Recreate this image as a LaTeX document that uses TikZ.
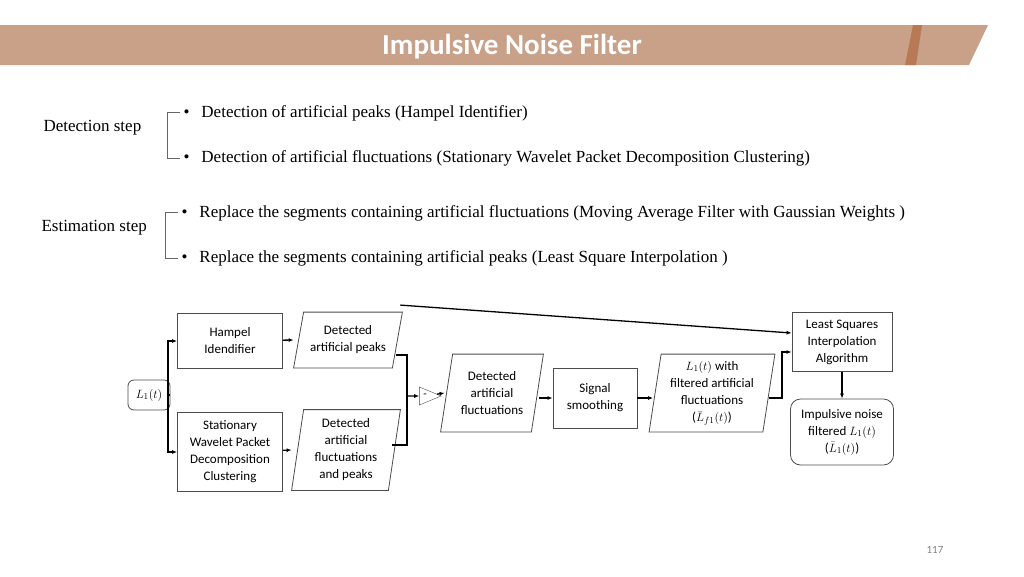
\documentclass[tikz,border=0pt]{standalone}
\usepackage{fontspec}
\setmainfont{Liberation Serif}
\newfontfamily\carlito{Carlito}
\usetikzlibrary{arrows.meta,calc,positioning,shapes.geometric}
\definecolor{banner}{HTML}{C9A088}
\definecolor{bannerdark}{HTML}{B87A55}
\tikzset{
    box/.style={draw=black!70, thick, align=center, font=\carlito\fontsize{13}{17}\selectfont, inner sep=2pt},
    para/.style={box, draw=none},
    rbox/.style={box, rounded corners=6pt},
    flow/.style={-{Latex[length=5pt,width=4pt]}, line width=1.3pt},
    stepline/.style={font=\fontsize{17}{20}\selectfont, anchor=west}
}
\begin{document}
\begin{tikzpicture}[x=1pt, y=-1pt]
    \useasboundingbox (0,0) rectangle (1024,576);
    % banner
    \fill[banner] (0,25) -- (988,25) -- (969,65) -- (0,65) -- cycle;
    \fill[bannerdark] (913,25) -- (922,25) -- (916,65) -- (905,65) -- cycle;
    \node[text=white, font=\carlito\bfseries\fontsize{29}{32}\selectfont] (title) at (512,47) {Impulsive Noise Filter};
    % steps
    \node[stepline] (det) at (40,128) {Detection step};
    \draw[black!60] (180,112) -- (167,112) -- (167,158) -- (180,158);
    \node[stepline] (d1) at (180,113) {\textbullet\hspace{12pt}Detection of artificial peaks (Hampel Identifier)};
    \node[stepline] (d2) at (180,158) {\textbullet\hspace{12pt}Detection of artificial fluctuations (Stationary Wavelet Packet Decomposition Clustering)};
    \node[stepline] (est) at (38,228) {Estimation step};
    \draw[black!60] (178,212) -- (165,212) -- (165,258) -- (178,258);
    \node[stepline] (e1) at (178,213) {\textbullet\hspace{12pt}Replace the segments containing artificial fluctuations (Moving Average Filter with Gaussian Weights )};
    \node[stepline] (e2) at (178,258) {\textbullet\hspace{12pt}Replace the segments containing artificial peaks (Least Square Interpolation )};
    % diagram
    \node[rbox, minimum width=42pt, minimum height=30pt] (L) at (149,395) {$L_1(t)$};
    \node[box, minimum width=105pt, minimum height=55pt] (ham) at (230,341) {Hampel\\Idendifier};
    \node[box, minimum width=105pt, minimum height=79pt] (swp) at (230,452) {Stationary\\Wavelet Packet\\Decomposition\\Clustering};
    \node[para, minimum width=108pt, minimum height=55pt] (pk) at (348,340) {Detected\\artificial peaks};
    \node[para, minimum width=108pt, minimum height=80pt] (fp) at (346,450) {Detected\\artificial\\fluctuations\\and peaks};
    \node[isosceles triangle, draw=black!70, minimum height=20pt, minimum width=18pt, inner sep=0pt, font=\carlito\fontsize{11}{12}\selectfont] (sub) at (425,396) {-};
    \node[para, minimum width=102pt, minimum height=77pt] (fl) at (492,393) {Detected\\artificial\\fluctuations};
    \node[box, minimum width=84pt, minimum height=60pt] (sm) at (595,398) {Signal\\smoothing};
    \node[para, minimum width=125pt, minimum height=77pt] (lf) at (712,393) {$L_1(t)$ with\\filtered artificial\\fluctuations\\($\bar{L}_{f1}(t)$)};
    \node[box, minimum width=100pt, minimum height=59pt] (ls) at (842,342) {Least Squares\\Interpolation\\Algorithm};
    \node[rbox, rounded corners=10pt, minimum width=103pt, minimum height=66pt] (out) at (842,432) {Impulsive noise\\filtered $L_1(t)$\\($\bar{L}_1(t)$)};
    \foreach \n/\s in {pk/10, fp/12, fl/12, lf/12}{
        \draw[black!70, thick] (\n.south west) -- ($(\n.south east)-(\s,0)$) -- (\n.north east) -- ($(\n.north west)+(\s,0)$) -- cycle;}
    % connectors
    \coordinate (split) at (168,395);
    \draw[line width=1.3pt] (L) -- (split);
    \draw[flow] (split) |- (ham);
    \draw[flow] (split) |- (swp);
    \draw[flow] (ham) -- (pk.west);
    \draw[flow] (swp) -- (fp.west);
    \coordinate (join) at (407,396);
    \draw[line width=1.3pt] ($(pk.east)+(-6,15)$) -| (join) |- ($(fp.east)+(-8,-5)$);
    \draw[flow] (join) -- (sub.west);
    \draw[flow] (sub) -- ($(fl.west)+(4,0)$);
    \draw[flow] ($(fl.east)+(-4,5)$) -- (sm);
    \draw[flow] (sm) -- ($(lf.west)+(4,5)$);
    \draw[flow] ($(pk.north east)+(-2,-7)$) -- ($(ls.west)+(0,-9)$);
    \draw[flow] ($(lf.east)+(-6,5)$) -| (782,352) -- ($(ls.west)+(0,10)$);
    \draw[flow] (ls) -- (out);
    \node[text=black!50, font=\carlito\fontsize{11}{12}\selectfont] (page) at (935,550) {117};
\end{tikzpicture}
\end{document}
